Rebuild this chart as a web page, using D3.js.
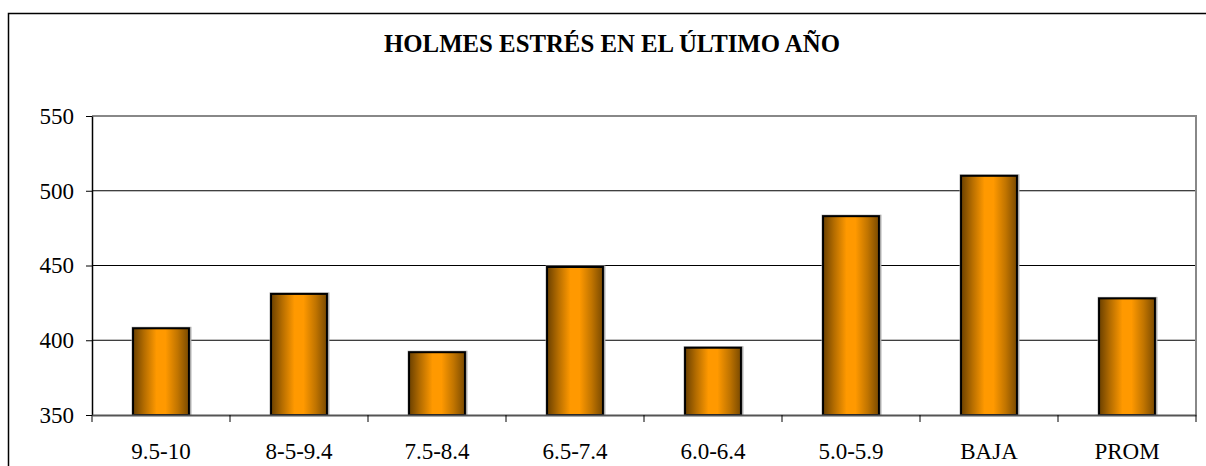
<!DOCTYPE html>
<html>
<head>
<meta charset="utf-8">
<script src="https://cdn.jsdelivr.net/npm/d3@7"></script>
<style>
  body { margin: 0; background: #fff; }
  svg { display: block; font-family: "Liberation Serif", "Times New Roman", serif; }
</style>
</head>
<body>
<div id="chart"></div>
<script>
// data
var categories = ["9.5-10", "8-5-9.4", "7.5-8.4", "6.5-7.4", "6.0-6.4", "5.0-5.9", "BAJA", "PROM"]
var values = [408, 431, 392, 449, 395, 483, 510, 428]
var yTicks = [350, 400, 450, 500, 550]
var title = "HOLMES ESTRÉS EN EL ÚLTIMO AÑO"

var width = 1206, height = 466
var plot = { left: 92, right: 1196, top: 116, bottom: 415 }

var svg = d3.select("#chart").append("svg")
    .attr("width", width)
    .attr("height", height)

// gradient for the bars (dark - orange - dark)
var grad = svg.append("defs").append("linearGradient")
    .attr("id", "barGrad")
    .attr("x1", "0%").attr("x2", "100%")
    .attr("y1", "0%").attr("y2", "0%")
grad.append("stop").attr("offset", "0%").attr("stop-color", "#6a4000")
grad.append("stop").attr("offset", "20%").attr("stop-color", "#b56d00")
grad.append("stop").attr("offset", "42%").attr("stop-color", "#ff9900")
grad.append("stop").attr("offset", "58%").attr("stop-color", "#ff9900")
grad.append("stop").attr("offset", "80%").attr("stop-color", "#c07400")
grad.append("stop").attr("offset", "100%").attr("stop-color", "#7a4a00")

// outer chart frame (runs off the right and bottom edges)
svg.append("rect")
    .attr("x", 8.5).attr("y", 13.5)
    .attr("width", 1300).attr("height", 600)
    .attr("fill", "none")
    .attr("stroke", "#000")
    .attr("stroke-width", 1.5)

// title
svg.append("text")
    .attr("x", 612).attr("y", 52)
    .attr("text-anchor", "middle")
    .style("font-size", "24.8px")
    .style("font-weight", "bold")
    .text(title)

// scales
var x = d3.scaleBand()
    .domain(categories)
    .range([plot.left, plot.right])
    .paddingInner(0.595)
    .paddingOuter(0.2975)

var y = d3.scaleLinear()
    .domain([350, 550])
    .range([plot.bottom, plot.top])

// gridlines
svg.append("g")
    .selectAll("line")
    .data(yTicks.slice(1, -1))
    .enter()
    .append("line")
    .attr("x1", plot.left).attr("x2", plot.right)
    .attr("y1", function (d) { return y(d) })
    .attr("y2", function (d) { return y(d) })
    .attr("stroke", "#000")
    .attr("stroke-width", 1)

// plot area border top/right (gray)
svg.append("path")
    .attr("d", "M" + plot.left + "," + plot.top + "H" + plot.right + "V" + plot.bottom)
    .attr("fill", "none")
    .attr("stroke", "#888")
    .attr("stroke-width", 2)

// bars: shadow, then fill
var bars = svg.append("g")
bars.selectAll("rect.shadow")
    .data(values)
    .enter()
    .append("rect")
    .attr("class", "shadow")
    .attr("x", function (d, i) { return x(categories[i]) - 0.5 })
    .attr("y", function (d) { return y(d) - 0.5 })
    .attr("width", x.bandwidth() + 2)
    .attr("height", function (d) { return y(350) - y(d) })
    .attr("fill", "none")
    .attr("stroke", "#aaa")
    .attr("stroke-width", 2)

bars.selectAll("rect.bar")
    .data(values)
    .enter()
    .append("rect")
    .attr("class", "bar")
    .attr("x", function (d, i) { return x(categories[i]) })
    .attr("y", function (d) { return y(d) })
    .attr("width", x.bandwidth())
    .attr("height", function (d) { return y(350) - y(d) })
    .attr("fill", "url(#barGrad)")
    .attr("stroke", "#000")
    .attr("stroke-width", 2)

// y axis
var yAxis = svg.append("g")
    .attr("transform", "translate(" + plot.left + ",0)")
    .call(d3.axisLeft(y).tickValues(yTicks).tickSize(6).tickPadding(12).tickSizeOuter(0))
yAxis.select(".domain").attr("stroke", "#000").attr("stroke-width", 1.5)
yAxis.selectAll(".tick line").attr("stroke", "#000")
yAxis.selectAll(".tick text")
    .attr("fill", "#000")
    .style("font-size", "23px")
    .style("font-family", "'Liberation Serif', 'Times New Roman', serif")

// x axis with ticks at the category boundaries
var xAxis = svg.append("g")
    .attr("transform", "translate(0," + plot.bottom + ")")
    .call(d3.axisBottom(x).tickSize(0).tickPadding(28))
xAxis.select(".domain").attr("stroke", "#555").attr("stroke-width", 2)
xAxis.selectAll(".tick text")
    .attr("fill", "#000")
    .style("font-size", "23px")
    .style("font-family", "'Liberation Serif', 'Times New Roman', serif")

var bounds = categories.map(function (c) { return x(c) - x.step() * x.paddingOuter() })
bounds.push(plot.right)
xAxis.selectAll("line.bound")
    .data(bounds)
    .enter()
    .append("line")
    .attr("class", "bound")
    .attr("x1", function (d) { return d }).attr("x2", function (d) { return d })
    .attr("y1", 0).attr("y2", 7)
    .attr("stroke", "#000")
</script>
</body>
</html>
